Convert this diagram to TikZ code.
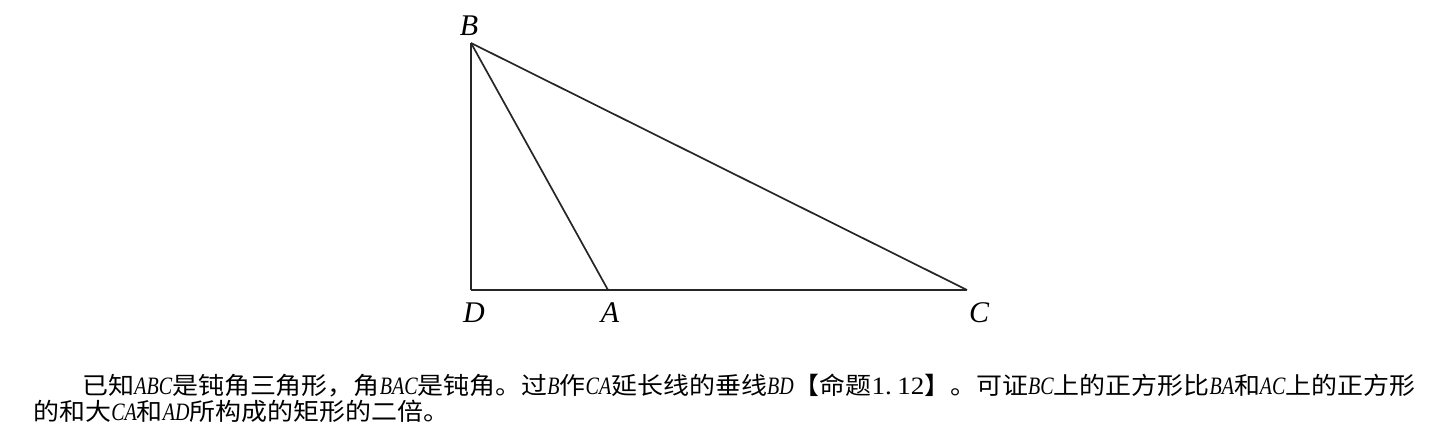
\documentclass[tikz,border=0pt]{standalone}
\usepackage{fontspec}
\setmainfont{Liberation Serif}
\newfontfamily\cjk{Noto Sans CJK SC}
\newcommand\Lit[1]{{\fontsize{12.5}{14}\selectfont\rmfamily\itshape\scalebox{0.74}[1]{#1}}}
\newsavebox\lineAbox
\newsavebox\lineBbox
\begin{document}
\sbox\lineAbox{\fontsize{12}{14}\selectfont\cjk 已知\Lit{ABC}是钝角三角形，角\Lit{BAC}是钝角。过\Lit{B}作\Lit{CA}延长线的垂线\Lit{BD}【命题{\rmfamily\fontsize{12.5}{14}\selectfont 1.\kern2.5pt12}】。可证\Lit{BC}上的正方形比\Lit{BA}和\Lit{AC}上的正方形}%
\sbox\lineBbox{\fontsize{12}{14}\selectfont\cjk 的和大\Lit{CA}和\Lit{AD}所构成的矩形的二倍。}%
\pgfmathsetmacro\sxA{666.5/\the\wd\lineAbox}%
\begin{tikzpicture}[x=0.5pt,y=-0.5pt,
  edge/.style={line width=0.85pt, draw=black!85},
  ptlabel/.style={font=\fontsize{15}{18}\selectfont\itshape, inner sep=0pt, anchor=base},
  txt/.style={anchor=base west, inner sep=0pt}]
\useasboundingbox (0,0) rectangle (1451,442);
% points
\coordinate (B) at (471,43);
\coordinate (D) at (471,290);
\coordinate (A) at (608,290);
\coordinate (C) at (967,290);
% lines
\draw[edge] (D) -- (B);
\draw[edge] (B) -- (C);
\draw[edge] (B) -- (A);
\draw[edge] (D) -- (C);
% labels
\node[ptlabel] (lB) at (469,36) {B};
\node[ptlabel] (lD) at (474,323) {D};
\node[ptlabel] (lA) at (610,323) {A};
\node[ptlabel] (lC) at (979,323) {C};
% text
\node[txt] (t1) at (82,395) {\scalebox{\sxA}[1]{\usebox\lineAbox}};
\node[txt] (t2) at (33,421) {\scalebox{\sxA}[1]{\usebox\lineBbox}};
\end{tikzpicture}
\end{document}
